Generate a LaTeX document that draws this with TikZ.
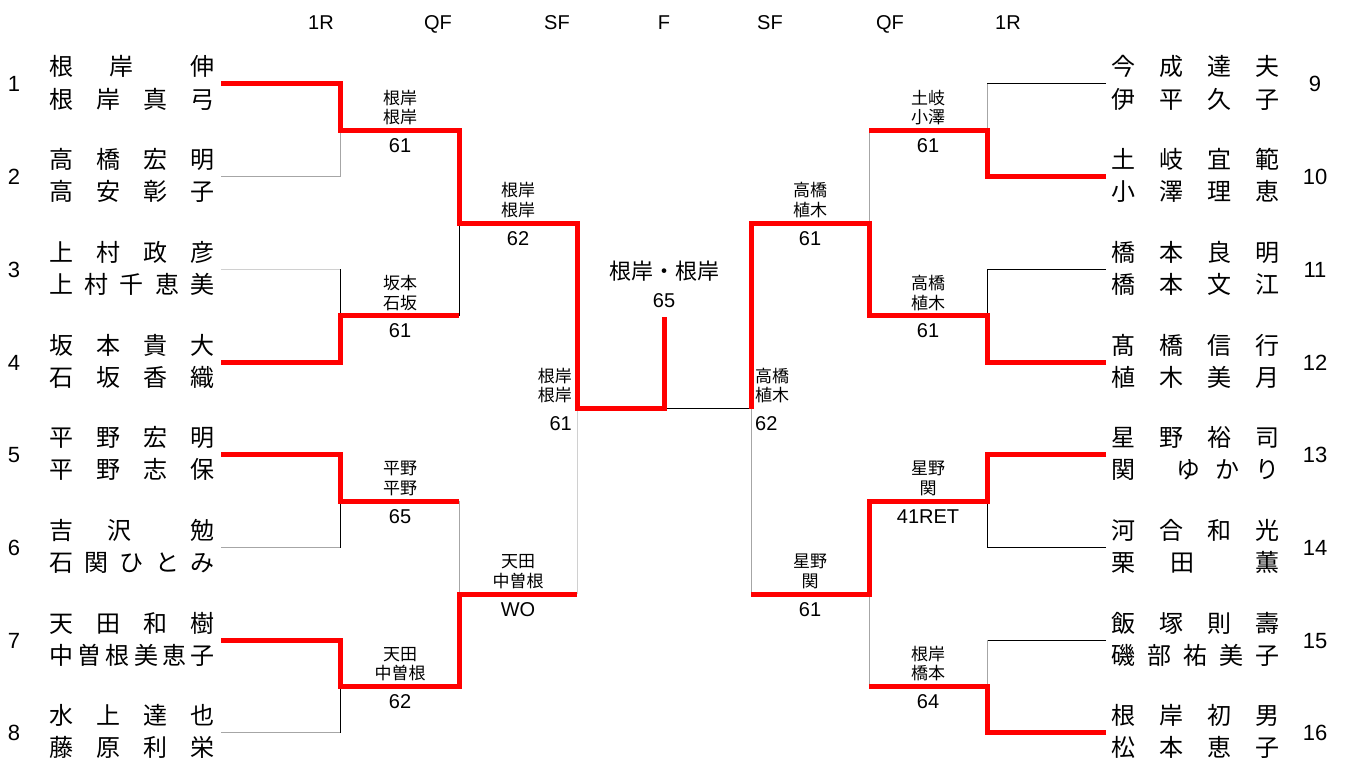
\documentclass[tikz,border=0pt]{standalone}
\usepackage{fontspec}
\setmainfont{Liberation Sans}
\newfontfamily\jp{Noto Sans CJK JP}
\definecolor{winred}{HTML}{FF0000}
\definecolor{midgray}{HTML}{A6A6A6}
\definecolor{lightgray2}{HTML}{D0D0D0}
\tikzset{
  win/.style={draw=winred, line width=5pt, line join=miter},
  gl/.style={draw=midgray, line width=1pt},
  ll/.style={draw=lightgray2, line width=1pt},
  bl/.style={draw=black, line width=1pt},
  nm/.style={font=\jp\fontsize{24}{28}\selectfont, inner sep=0pt, text height=20pt, text depth=4pt},
  lbl/.style={font=\jp\fontsize{17}{20}\selectfont, inner sep=0pt, text height=14pt, text depth=2.5pt},
  sc/.style={font=\fontsize{20}{24}\selectfont, inner sep=0pt, text height=14.3pt, text depth=0pt},
  num/.style={font=\fontsize{22}{26}\selectfont, inner sep=0pt, text height=15.8pt, text depth=0pt},
  hdr/.style={font=\fontsize{20}{24}\selectfont, inner sep=0pt, text height=14.3pt, text depth=0pt},
  fin/.style={font=\jp\fontsize{22}{26}\selectfont, inner sep=0pt, text height=18.5pt, text depth=3.5pt},
}
\newcommand\plr[6]{%
  \node[nm] (#1a) at (#2,#3-16) {\makebox[#4pt]{#5}};
  \node[nm] (#1b) at (#2,#3+16) {\makebox[#4pt]{#6}};}
\newcommand\mlab[7][]{%
  \node[lbl,#1] (#2a) at (#3,#4-32) {#5};
  \node[lbl,#1] (#2b) at (#3,#4-12.5) {#6};
  \node[sc,#1] (#2c) at (#3,#4+15) {#7};}
\begin{document}
\begin{tikzpicture}[x=1pt,y=-1pt]
\fill[white] (0,0) rectangle (1345,760);
\useasboundingbox (0,0) rectangle (1345,760);

% headers
\node[hdr] (h1) at (321,22) {1R};
\node[hdr] (h2) at (438,22) {QF};
\node[hdr] (h3) at (557,22) {SF};
\node[hdr] (h4) at (664,22) {F};
\node[hdr] (h5) at (770,22) {SF};
\node[hdr] (h6) at (890,22) {QF};
\node[hdr] (h7) at (1008,22) {1R};

% player coordinates
\coordinate (L1) at (221,84);
\coordinate (L2) at (221,176.7);
\coordinate (L3) at (221,269.4);
\coordinate (L4) at (221,362.1);
\coordinate (L5) at (221,454.8);
\coordinate (L6) at (221,547.5);
\coordinate (L7) at (221,640.2);
\coordinate (L8) at (221,732.9);
\coordinate (R9) at (1106,84);
\coordinate (R10) at (1106,176.7);
\coordinate (R11) at (1106,269.4);
\coordinate (R12) at (1106,362.1);
\coordinate (R13) at (1106,454.8);
\coordinate (R14) at (1106,547.5);
\coordinate (R15) at (1106,640.2);
\coordinate (R16) at (1106,732.9);
% junctions
\coordinate (qa) at (340,130.4);
\coordinate (qb) at (340,315.8);
\coordinate (qc) at (340,501.2);
\coordinate (qd) at (340,686.6);
\coordinate (sa) at (459,223);
\coordinate (sb) at (459,594);
\coordinate (fa) at (577,408.5);
\coordinate (F) at (664,408.5);
\coordinate (champ) at (664,317);
\coordinate (qe) at (987,130.4);
\coordinate (qf) at (987,315.8);
\coordinate (qg) at (987,501.2);
\coordinate (qh) at (987,686.6);
\coordinate (se) at (869,223);
\coordinate (sf) at (869,594);
\coordinate (fb) at (751,408.5);

% thin (losing) lines
\draw[gl] (L2) -| (qa);
\draw[ll] (L3) -- (L3 -| qb);
\draw[bl] (L3 -| qb) -- (qb);
\draw[bl] (qb -| sa) -- (sa);
\draw[gl] (L6) -- (L6 -| qc);
\draw[bl] (L6 -| qc) -- (qc);
\draw[gl] (qc -| sb) -- (sb);
\draw[gl] (L8) -- (L8 -| qd);
\draw[bl] (L8 -| qd) -- (qd);
\draw[ll] (sb -| fa) -- (fa);
\draw[bl] (F) -- (fb);
\draw[bl] (R9) -- (R9 -| qe);
\draw[gl] (R9 -| qe) -- (qe);
\draw[gl] (qe -| se) -- (se);
\draw[bl] (R11) -| (qf);
\draw[gl] (sf -| fb) -- (fb);
\draw[bl] (R14) -| (qg);
\draw[bl] (R15) -- (R15 -| qh);
\draw[gl] (R15 -| qh) -- (qh);
\draw[gl] (qh -| sf) -- (sf);

% winning lines
\draw[win] (L1) -| (qa) -| (sa) -| (fa) -- (F) -- (champ);
\draw[win] (L4) -| (qb) -- (qb -| sa);
\draw[win] (L5) -| (qc) -- (qc -| sb);
\draw[win] (L7) -| (qd) -| (sb) -- (sb -| fa);
\draw[win] (R10) -| (qe) -- (qe -| se);
\draw[win] (R12) -| (qf) -| (se) -| (fb);
\draw[win] (R13) -| (qg) -| (sf) -- (sf -| fb);
\draw[win] (R16) -| (qh) -- (qh -| sf);

% seed numbers
\node[num] (n1) at (14,84) {1};
\node[num] (n2) at (14,176.7) {2};
\node[num] (n3) at (14,269.4) {3};
\node[num] (n4) at (14,362.1) {4};
\node[num] (n5) at (14,454.8) {5};
\node[num] (n6) at (14,547.5) {6};
\node[num] (n7) at (14,640.2) {7};
\node[num] (n8) at (14,732.9) {8};
\node[num] (n9) at (1315,84) {9};
\node[num] (n10) at (1315,176.7) {10};
\node[num] (n11) at (1315,269.4) {11};
\node[num] (n12) at (1315,362.1) {12};
\node[num] (n13) at (1315,454.8) {13};
\node[num] (n14) at (1315,547.5) {14};
\node[num] (n15) at (1315,640.2) {15};
\node[num] (n16) at (1315,732.9) {16};

% player names (left)
\plr{p1}{132}{84}{166}{根\hspace{36pt}岸\hfill 伸}{根\hfill 岸\hfill 真\hfill 弓}
\plr{p2}{132}{176.7}{166}{高\hfill 橋\hfill 宏\hfill 明}{高\hfill 安\hfill 彰\hfill 子}
\plr{p3}{132}{269.4}{166}{上\hfill 村\hfill 政\hfill 彦}{上\hfill 村\hfill 千\hfill 恵\hfill 美}
\plr{p4}{132}{362.1}{166}{坂\hfill 本\hfill 貴\hfill 大}{石\hfill 坂\hfill 香\hfill 織}
\plr{p5}{132}{454.8}{166}{平\hfill 野\hfill 宏\hfill 明}{平\hfill 野\hfill 志\hfill 保}
\plr{p6}{132}{547.5}{166}{吉\hspace{35pt}沢\hfill 勉}{石\hfill 関\hfill ひ\hfill と\hfill み}
\plr{p7}{132}{640.2}{166}{天\hfill 田\hfill 和\hfill 樹}{中\hfill 曽\hfill 根\hfill 美\hfill 恵\hfill 子}
\plr{p8}{132}{732.9}{166}{水\hfill 上\hfill 達\hfill 也}{藤\hfill 原\hfill 利\hfill 栄}
% player names (right)
\plr{p9}{1195}{84}{168}{今\hfill 成\hfill 達\hfill 夫}{伊\hfill 平\hfill 久\hfill 子}
\plr{p10}{1195}{176.7}{168}{土\hfill 岐\hfill 宜\hfill 範}{小\hfill 澤\hfill 理\hfill 恵}
\plr{p11}{1195}{269.4}{168}{橋\hfill 本\hfill 良\hfill 明}{橋\hfill 本\hfill 文\hfill 江}
\plr{p12}{1195}{362.1}{168}{髙\hfill 橋\hfill 信\hfill 行}{植\hfill 木\hfill 美\hfill 月}
\plr{p13}{1195}{454.8}{168}{星\hfill 野\hfill 裕\hfill 司}{関\hspace{41pt}ゆ\hfill か\hfill り}
\plr{p14}{1195}{547.5}{168}{河\hfill 合\hfill 和\hfill 光}{栗\hspace{35pt}田\hfill 薫}
\plr{p15}{1195}{640.2}{168}{飯\hfill 塚\hfill 則\hfill 壽}{磯\hfill 部\hfill 祐\hfill 美\hfill 子}
\plr{p16}{1195}{732.9}{168}{根\hfill 岸\hfill 初\hfill 男}{松\hfill 本\hfill 恵\hfill 子}

% match labels
\mlab{m1}{400}{130.4}{根岸}{根岸}{61}
\mlab{m2}{400}{315.8}{坂本}{石坂}{61}
\mlab{m3}{400}{501.2}{平野}{平野}{65}
\mlab{m4}{400}{686.6}{天田}{中曽根}{62}
\mlab{m5}{518}{223}{根岸}{根岸}{62}
\mlab{m6}{518}{594}{天田}{中曽根}{WO}
\mlab[anchor=east]{m7}{572}{408.5}{根岸}{根岸}{61}
\mlab[anchor=west]{m8}{755}{408.5}{高橋}{植木}{62}
\mlab{m9}{810}{223}{高橋}{植木}{61}
\mlab{m10}{810}{594}{星野}{関}{61}
\mlab{m11}{928}{130.4}{土岐}{小澤}{61}
\mlab{m12}{928}{315.8}{高橋}{植木}{61}
\mlab{m13}{928}{501.2}{星野}{関}{41RET}
\mlab{m14}{928}{686.6}{根岸}{橋本}{64}

% final
\node[fin] (champname) at (664,272) {根岸・根岸};
\node[sc] (champscore) at (664,300) {65};
\end{tikzpicture}
\end{document}
